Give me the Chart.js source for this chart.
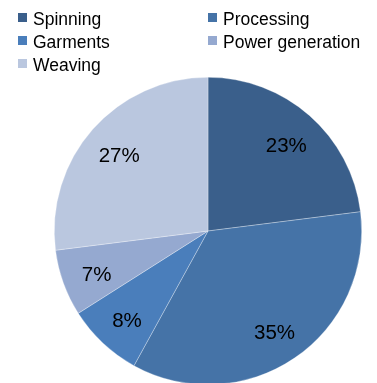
<!DOCTYPE html>
<html>
<head>
    <script src="https://cdn.jsdelivr.net/npm/chart.js"></script>
    <style>
        html, body { margin: 0; padding: 0; background: #fff; overflow: hidden; }
        #wrap { position: relative; width: 377px; height: 383px; overflow: hidden; }
        #pie { position: absolute; left: 0; top: 0; }
        #legend {
            position: absolute; left: 18px; top: 9px;
            display: grid; grid-template-columns: 190px 165px; row-gap: 3px;
            font-family: "Liberation Sans", Arial, sans-serif; font-size: 17.5px; color: #000;
        }
        .item { display: flex; align-items: flex-start; height: 20px; line-height: 20px; }
        .box { width: 9px; height: 9px; margin: 4px 6px 0 0; flex: none; }
    </style>
</head>
<body>
    <div id="wrap">
        <canvas id="pie" width="377" height="392"></canvas>
        <div id="legend"></div>
    </div>

    <script>
        const categories = ['Spinning', 'Processing', 'Garments', 'Power generation', 'Weaving'];
        const shares = [23, 35, 8, 7, 27];
        const colors = ['#3A5F8B', '#4573A7', '#4A7EBB', '#95A9D0', '#BAC7DF'];

        // legend (two columns, row-wise like the original)
        const legendEl = document.getElementById('legend');
        categories.forEach((name, i) => {
            const item = document.createElement('div');
            item.className = 'item';
            item.innerHTML = '<span class="box" style="background:' + colors[i] + '"></span><span>' + name + '</span>';
            legendEl.appendChild(item);
        });

        // percent labels inside the slices
        const sliceLabels = {
            id: 'sliceLabels',
            afterDatasetsDraw(chart) {
                const c = chart.ctx;
                const meta = chart.getDatasetMeta(0);
                c.save();
                c.fillStyle = '#000';
                c.font = '20.5px "Liberation Sans", Arial, sans-serif';
                c.textAlign = 'center';
                c.textBaseline = 'middle';
                meta.data.forEach((arc, i) => {
                    const mid = (arc.startAngle + arc.endAngle) / 2;
                    const r = arc.outerRadius * 0.77;
                    c.fillText(shares[i] + '%', arc.x + Math.cos(mid) * r, arc.y + Math.sin(mid) * r + 4);
                });
                c.restore();
            }
        };

        new Chart(document.getElementById('pie').getContext('2d'), {
            type: 'pie',
            data: {
                labels: categories,
                datasets: [{
                    data: shares,
                    backgroundColor: colors,
                    borderColor: 'rgba(255,255,255,0.5)',
                    borderWidth: 0.6
                }]
            },
            options: {
                responsive: false,
                animation: false,
                layout: { padding: { left: 54, right: 15, top: 77, bottom: 7 } },
                plugins: {
                    legend: { display: false },
                    tooltip: { enabled: false }
                }
            },
            plugins: [sliceLabels]
        });
    </script>
</body>
</html>
